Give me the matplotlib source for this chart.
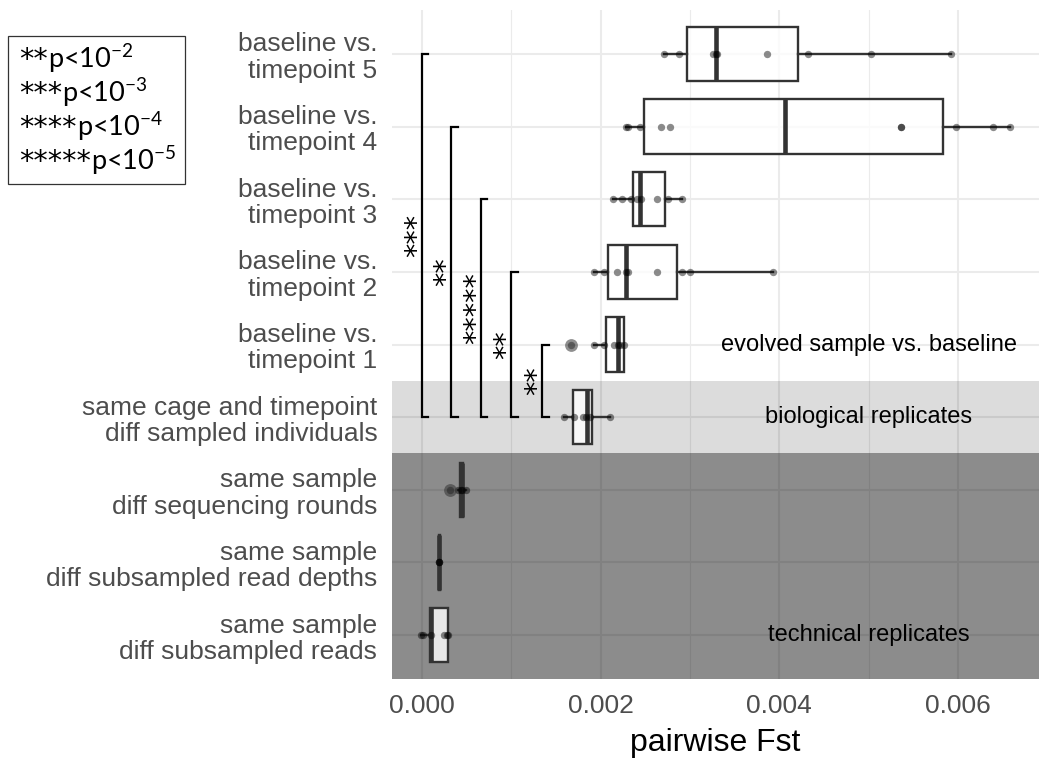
import matplotlib
matplotlib.use("Agg")
import matplotlib.pyplot as plt
from matplotlib.patches import Rectangle
from matplotlib.ticker import FormatStrFormatter

# ---------------- data (top row first) ----------------
categories = [
    "baseline vs.\ntimepoint 5",
    "baseline vs.\ntimepoint 4",
    "baseline vs.\ntimepoint 3",
    "baseline vs.\ntimepoint 2",
    "baseline vs.\ntimepoint 1",
    "same cage and timepoint\ndiff sampled individuals",
    "same sample\ndiff sequencing rounds",
    "same sample\ndiff subsampled read depths",
    "same sample\ndiff subsampled reads",
]
q1 = [2.963e-3, 2.489e-3, 2.358e-3, 2.082e-3, 2.063e-3, 1.690e-3, 0.425e-3, 0.190e-3, 0.093e-3]
med = [3.295e-3, 4.060e-3, 2.437e-3, 2.284e-3, 2.194e-3, 1.847e-3, 0.445e-3, 0.198e-3, 0.100e-3]
q3 = [4.209e-3, 5.834e-3, 2.724e-3, 2.858e-3, 2.261e-3, 1.899e-3, 0.465e-3, 0.205e-3, 0.291e-3]
whislo = [2.713e-3, 2.287e-3, 2.138e-3, 1.929e-3, 1.922e-3, 1.593e-3, 0.410e-3, 0.198e-3, -0.007e-3]
whishi = [5.920e-3, 6.584e-3, 2.910e-3, 3.929e-3, 2.265e-3, 2.108e-3, 0.496e-3, 0.198e-3, 0.291e-3]
points = [
    [2.713e-3, 2.873e-3, 3.257e-3, 3.290e-3, 3.300e-3, 3.858e-3, 4.321e-3, 5.030e-3, 5.920e-3],
    [2.287e-3, 2.302e-3, 2.437e-3, 2.679e-3, 2.772e-3, 5.358e-3, 5.366e-3, 5.980e-3, 6.386e-3, 6.584e-3],
    [2.138e-3, 2.235e-3, 2.340e-3, 2.407e-3, 2.451e-3, 2.631e-3, 2.750e-3, 2.910e-3],
    [1.929e-3, 2.034e-3, 2.187e-3, 2.284e-3, 2.302e-3, 2.631e-3, 2.914e-3, 2.996e-3, 3.929e-3],
    [1.672e-3, 1.922e-3, 2.034e-3, 2.153e-3, 2.194e-3, 2.213e-3, 2.265e-3],
    [1.593e-3, 1.698e-3, 1.802e-3, 1.840e-3, 1.884e-3, 2.108e-3],
    [0.317e-3, 0.410e-3, 0.440e-3, 0.450e-3, 0.496e-3],
    [0.198e-3, 0.198e-3, 0.198e-3],
    [-0.007e-3, 0.019e-3, 0.100e-3, 0.250e-3, 0.287e-3, 0.291e-3],
]
outliers = [[], [], [], [], [1.672e-3], [], [0.317e-3], [], []]

group_labels = ["evolved sample vs. baseline", "biological replicates", "technical replicates"]
group_rows = [4, 5, 8]          # category index where each group label sits
group_label_x = 0.005

sig_rows = [0, 1, 2, 3, 4]      # compared against "same cage" row (index 5)
sig_ref = 5
sig_labels = ["***", "**", "*****", "**", "**"]
sig_x = [0.0, 0.00033, 0.00066, 0.001, 0.00135]

legend_stars = ["**", "***", "****", "*****"]
legend_exp = [-2, -3, -4, -5]

xticks_major = [0.0, 0.002, 0.004, 0.006]
xticks_minor = [0.001, 0.003, 0.005]

# ---------------- figure ----------------
W, H = 1050, 766
fig = plt.figure(figsize=(W / 100, H / 100), dpi=100)
ax = fig.add_axes([392 / W, 1 - 678.6 / H, (1039 - 392) / W, (678.6 - 10.4) / H])

n = len(categories)
ypos = [n - i for i in range(n)]

# shaded bands
ax.axhspan(ypos[sig_ref] - 0.5, ypos[sig_ref] + 0.5, color="black", alpha=0.137, lw=0, zorder=1)
ax.axhspan(-1, ypos[6] + 0.5, color="black", alpha=0.45, lw=0, zorder=1)

# boxplots
stats = [dict(q1=q1[i], med=med[i], q3=q3[i], whislo=whislo[i], whishi=whishi[i], fliers=[])
         for i in range(n)]
common = dict(positions=ypos, widths=0.75, patch_artist=True, showfliers=False, showcaps=False,
              manage_ticks=False,
              boxprops=dict(facecolor=(1, 1, 1, 0.8), edgecolor="#333333", linewidth=1.7),
              medianprops=dict(color="#333333", linewidth=3.3, solid_capstyle="butt"),
              whiskerprops=dict(color="#333333", linewidth=1.7), zorder=3)
try:
    ax.bxp(stats, orientation="horizontal", **common)
except TypeError:
    ax.bxp(stats, vert=False, **common)

# points and outliers
for i in range(n):
    ax.scatter(points[i], [ypos[i]] * len(points[i]), s=28, color="black", alpha=0.45, lw=0, zorder=4)
    if outliers[i]:
        ax.scatter(outliers[i], [ypos[i]] * len(outliers[i]), s=85, color="#333333", alpha=0.55,
                   lw=0, zorder=4)

# significance brackets
tick = 0.000075
for j, r in enumerate(sig_rows):
    x = sig_x[j]
    yt, yb = ypos[r], ypos[sig_ref]
    ax.plot([x + tick, x, x, x + tick], [yt, yt, yb, yb], color="black", lw=1.6, zorder=5,
            solid_joinstyle="miter", clip_on=False)
    ax.text(x - 0.000055, (yt + yb) / 2, sig_labels[j], rotation=90, ha="center", va="center",
            fontsize=20.5, family="DejaVu Sans", color="black", zorder=6)

# group labels
for lab, r in zip(group_labels, group_rows):
    ax.text(group_label_x, ypos[r], lab, ha="center", va="center", fontsize=17,
            family="Liberation Sans", color="black", zorder=6)

# grid & ticks
ax.set_axisbelow(True)
ax.set_xticks(xticks_major)
ax.set_xticks(xticks_minor, minor=True)
ax.set_yticks(ypos)
ax.grid(which="major", color="#ebebeb", lw=1.5)
ax.grid(which="minor", axis="x", color="#ebebeb", lw=0.8)

ax.set_xlim(-0.000333, 0.006905)
ax.set_ylim(0.4, n + 0.6)
ax.xaxis.set_major_formatter(FormatStrFormatter("%.3f"))
ax.set_yticklabels(categories, fontsize=19, color="#4d4d4d", family="Liberation Sans", linespacing=1.12)
for lab in ax.get_xticklabels():
    lab.set_family("Liberation Sans")
ax.tick_params(axis="x", which="both", length=0, labelsize=19, labelcolor="#4d4d4d", pad=11)
ax.tick_params(axis="y", which="both", length=0, pad=10.6)
for s in ax.spines.values():
    s.set_visible(False)
ax.set_xlabel("pairwise Fst", fontsize=23, family="Liberation Sans", color="black", labelpad=7)

# legend box
fig.patches.append(Rectangle((8.3 / W, 1 - 183.7 / H), 177 / W, 148 / H, transform=fig.transFigure,
                             fill=False, edgecolor="#333333", lw=0.9))
for k, (st, e) in enumerate(zip(legend_stars, legend_exp)):
    base = H - (68 + 33.9 * k)
    t = fig.text(19.3 / W, base / H, st, family="DejaVu Sans", fontsize=20.5, va="baseline",
                 color="black")
    ax.annotate("p<10$\\mathregular{^{%d}}$" % e, xy=(1.0, base), xycoords=(t, "figure pixels"),
                va="baseline", ha="left", family="Lato", fontsize=19.5, color="black",
                annotation_clip=False)

fig.savefig("out.png", dpi=100, facecolor="white")
